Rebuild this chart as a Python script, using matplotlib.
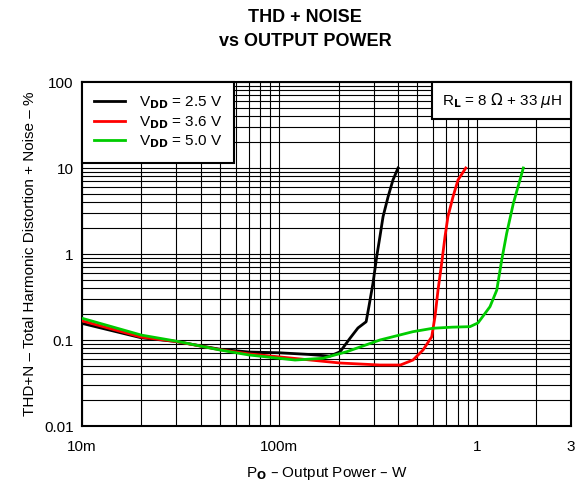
import matplotlib
matplotlib.use('Agg')
import matplotlib.pyplot as plt
from matplotlib.ticker import FixedLocator, LogLocator, NullFormatter
from matplotlib.offsetbox import AnchoredText

plt.rcParams['font.family'] = ['Liberation Sans', 'DejaVu Sans']
plt.rcParams['font.size'] = 11

# output power (W) and THD+N (%)
p_25 = [0.01, 0.02, 0.03, 0.05, 0.07, 0.1, 0.14, 0.18, 0.203, 0.228, 0.25, 0.275,
        0.284, 0.298, 0.311, 0.323, 0.335, 0.355, 0.376, 0.399]
thd_25 = [0.156, 0.106, 0.096, 0.078, 0.0725, 0.071, 0.068, 0.065, 0.073, 0.105, 0.138, 0.163,
          0.244, 0.46, 0.93, 1.59, 2.72, 4.6, 7.25, 10]

p_36 = [0.01, 0.02, 0.03, 0.05, 0.07, 0.12, 0.203, 0.323, 0.41, 0.475, 0.534, 0.591,
        0.614, 0.636, 0.664, 0.69, 0.714, 0.757, 0.803, 0.879]
thd_36 = [0.167, 0.108, 0.096, 0.077, 0.069, 0.061, 0.054, 0.0512, 0.0512, 0.0585, 0.0765, 0.109,
          0.187, 0.38, 0.786, 1.59, 2.72, 4.6, 7.25, 10]

p_50 = [0.01, 0.02, 0.03, 0.05, 0.07, 0.12, 0.166, 0.219, 0.323, 0.475, 0.6, 0.75, 0.924,
        1.014, 1.166, 1.262, 1.337, 1.417, 1.531, 1.72]
thd_50 = [0.179, 0.114, 0.097, 0.0765, 0.067, 0.0585, 0.0613, 0.073, 0.1, 0.125, 0.137, 0.141, 0.143,
          0.158, 0.244, 0.38, 0.85, 1.74, 3.87, 10]

x_ticks = [0.01, 0.1, 1, 3]
x_labels = ['10m', '100m', '1', '3']
y_ticks = [0.01, 0.1, 1, 10, 100]
y_labels = ['0.01', '0.1', '1', '10', '100']

fig = plt.figure(figsize=(5.76, 4.83), dpi=100)
ax = fig.add_axes([82 / 576, 57 / 483, 489 / 576, 344 / 483])

ax.plot(p_25, thd_25, color='black', lw=2, label=r'V$_{\mathbf{DD}}$ = 2.5 V', zorder=3)
ax.plot(p_36, thd_36, color='#ff0000', lw=2, label=r'V$_{\mathbf{DD}}$ = 3.6 V', zorder=3)
ax.plot(p_50, thd_50, color='#00cc00', lw=2, label=r'V$_{\mathbf{DD}}$ = 5.0 V', zorder=3)

ax.set_xscale('log')
ax.set_yscale('log')
ax.set_xlim(0.01, 3)
ax.set_ylim(0.01, 100)

ax.xaxis.set_major_locator(FixedLocator(x_ticks))
ax.set_xticklabels(x_labels)
ax.xaxis.set_minor_locator(LogLocator(base=10, subs=range(2, 10), numticks=20))
ax.xaxis.set_minor_formatter(NullFormatter())
ax.yaxis.set_major_locator(FixedLocator(y_ticks))
ax.set_yticklabels(y_labels)
ax.yaxis.set_minor_locator(LogLocator(base=10, subs=range(2, 10), numticks=20))
ax.yaxis.set_minor_formatter(NullFormatter())

ax.tick_params(which='both', length=0, labelsize=11)
ax.tick_params(axis='x', pad=10)
ax.tick_params(axis='y', pad=6)
ax.grid(which='both', color='black', lw=0.8)
ax.set_axisbelow(True)
for s in ax.spines.values():
    s.set_linewidth(1.5)

leg = ax.legend(loc='upper left', borderaxespad=0, fancybox=False, framealpha=1,
                edgecolor='black', handlelength=2.0, handletextpad=0.9,
                labelspacing=0.2, borderpad=0.8, fontsize=11)
leg.get_frame().set_linewidth(1.5)

at = AnchoredText(r'R$_{\mathbf{L}}$ = 8 $\Omega$ + 33 $\mu$H', loc='upper right',
                  borderpad=0, pad=0.6, prop=dict(size=11), frameon=True)
at.patch.set_boxstyle('square,pad=0')
at.patch.set_linewidth(1.5)
at.patch.set_edgecolor('black')
ax.add_artist(at)

ax.set_xlabel(r'P$_{\mathbf{O}}$ – Output Power – W', fontsize=11, labelpad=8)
ax.set_ylabel('THD+N – Total Harmonic Distortion + Noise – %', fontsize=11, labelpad=5)

fig.text(305 / 576, 1 - 17 / 483, 'THD + NOISE', ha='center', va='center',
         fontsize=13, fontweight='bold')
fig.text(305 / 576, 1 - 42 / 483, 'vs OUTPUT POWER', ha='center', va='center',
         fontsize=13, fontweight='bold')

fig.savefig('out.png', dpi=100)
